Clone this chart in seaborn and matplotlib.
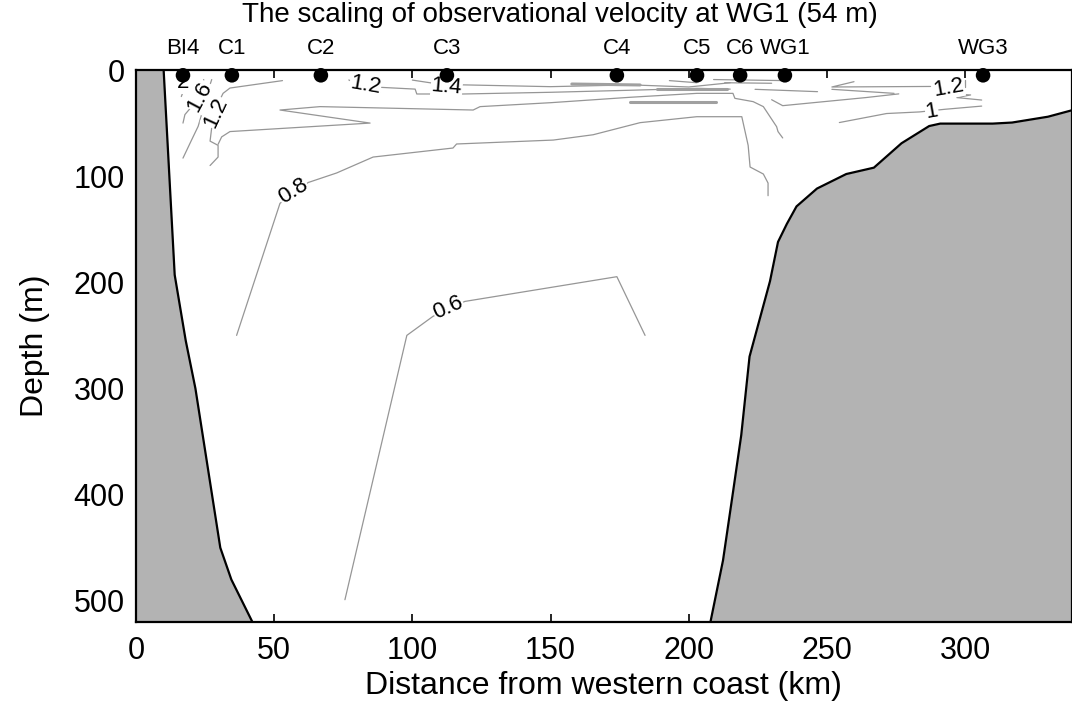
import matplotlib
matplotlib.use("Agg")
import matplotlib.pyplot as plt
import numpy as np
import pandas as pd
import seaborn as sns

# ---- stations along the section ----
station_names = ["BI4", "C1", "C2", "C3", "C4", "C5", "C6", "WG1", "WG3"]
station_km = [17.0, 34.7, 66.9, 112.5, 174.0, 203.0, 218.6, 234.8, 306.5]
station_depth = [5, 5, 5, 5, 5, 5, 5, 5, 5]

# ---- bottom topography (km, m) ----
west_km = [10.0, 14.0, 18.0, 21.5, 24.5, 27.5, 30.5, 34.5, 42.5]
west_depth = [0, 193, 255, 300, 350, 400, 450, 480, 522]
east_km = [340, 330, 317, 310, 291, 287, 277, 267, 257, 246.4, 239, 235.5,
           232.3, 229.4, 222, 219, 216, 212.4, 207.7]
east_depth = [37, 44, 49.5, 50.5, 50.5, 52.8, 69, 92, 98, 111.7, 128.5, 145,
              162, 199, 270, 344, 398, 462, 522]

# ---- scaling-factor isolines (km, m) ----
iso_06_km = [75.6, 98.0, 107.5, 119.0, 174.0, 184.2]
iso_06_depth = [499, 250, 232, 218, 194.7, 250]

iso_08_km = [36.4, 52.1, 62.3, 72.6, 85.8, 114.7, 116.0, 151.0, 165.4, 182.4,
             202.9, 219.2, 221.5, 222.2, 227.0, 228.7, 228.7]
iso_08_depth = [250, 125.6, 106, 97, 82, 73.5, 69.7, 66, 61, 49.6,
                44, 44, 71, 91.4, 98, 106.5, 118.4]

iso_10_km = [29.7, 31.0, 34.0, 84.7, 52.1, 66.6, 122.0, 124.5, 150.0, 178.8,
             202.9, 216.0, 216.7, 223.3, 227.0, 231.8, 232.3, 234.0]
iso_10_depth = [70, 63, 58, 50, 37.7, 34.5, 37.7, 34.5, 30.8, 25.7,
                22, 22, 26.7, 29.8, 34.5, 53.4, 58, 64]

iso_12w_km = [53.0, 34.0, 31.5, 30.0, 29.0, 27.5, 26.8, 29.7, 29.7, 26.8]
iso_12w_depth = [10, 17, 22, 30, 40, 52, 67, 71, 82, 90]

iso_14w_km = [27.4, 26.0, 24.5, 22.5, 20.1, 17.0]
iso_14w_depth = [9, 20, 35, 53, 66, 83]

iso_16_km = [24.5, 23.4, 19.0, 17.7, 17.0]
iso_16_depth = [9, 25, 38, 42, 50]

iso_20_km = [17.4, 16.4]
iso_20_depth = [18, 25]

iso_12t_km = [77.0, 80.0, 88.3, 101.0, 101.6, 118.4, 150.0, 180.0, 203.0, 215.0]
iso_12t_depth = [9.4, 13, 16.3, 18, 22.6, 22.6, 21, 19, 17.3, 18]

iso_14t_km = [100.0, 107.6, 112.4, 118.4, 150.0, 179.0, 200.0, 215.0]
iso_14t_depth = [9.5, 12.5, 16.3, 14, 15.7, 14, 16, 12]

iso_12e_km = [259.8, 251.8, 287.5]
iso_12e_depth = [11, 16, 15.5]
iso_12e_tick_km = [300.0, 300.0]
iso_12e_tick_depth = [9.4, 15.7]
iso_z_km = [291.0, 302.0, 297.0, 306.0]
iso_z_depth = [22, 23.5, 26, 28.3]

iso_10e_km = [254.5, 271.6, 283.5, 292.7, 306.0]
iso_10e_depth = [49.5, 41, 39.5, 37, 34]

iso_a_km = [224.0, 246.6]
iso_a_depth = [18.2, 20.4]
iso_b_km = [230.0, 234.0, 264.0, 276.0]
iso_b_depth = [28, 33.6, 26, 22.5]
iso_c_km = [251.8, 274.3]
iso_c_depth = [18.2, 22]
iso_d_km = [193.0, 203.0]
iso_d_depth = [10, 12]
iso_e_km = [209.0, 235.0]
iso_e_depth = [9, 10]
iso_f_km = [213.0, 230.0]
iso_f_depth = [12, 12.5]

# overlapping (doubled) isolines under C4-C6
band_a_km = [157.7, 182.4]
band_a_depth = [13.2, 14.1]
band_b_km = [178.8, 210.0]
band_b_depth = [29.9, 29.9]
band_c_km = [188.4, 213.7]
band_c_depth = [18.2, 18.2]

iso_labels = ["2", "1.6", "1.2", "1.2", "1.4", "0.8", "0.6", "1.2", "1"]
iso_label_km = [17.2, 23.2, 29.0, 83.0, 112.4, 57.0, 113.0, 294.0, 288.0]
iso_label_depth = [12, 25, 40, 14.5, 16.3, 114.6, 224, 16.5, 39.5]
iso_label_rot = [0, 62, 65, -10, -5, 32, 24, 10, 10]

# ---- figure ----
sns.set_theme(style="ticks")
plt.rcParams["font.family"] = ["Liberation Sans", "DejaVu Sans"]
plt.rcParams.update({"text.color": "black", "axes.labelcolor": "black",
                     "xtick.color": "black", "ytick.color": "black"})

fig = plt.figure(figsize=(10.72, 7.25), dpi=100)
ax = fig.add_axes([136 / 1072, 103 / 725, 935.5 / 1072, 552 / 725])

thin_lines = [
    (iso_06_km, iso_06_depth), (iso_08_km, iso_08_depth), (iso_10_km, iso_10_depth),
    (iso_12w_km, iso_12w_depth), (iso_14w_km, iso_14w_depth), (iso_16_km, iso_16_depth),
    (iso_20_km, iso_20_depth), (iso_12t_km, iso_12t_depth), (iso_14t_km, iso_14t_depth),
    (iso_12e_km, iso_12e_depth), (iso_12e_tick_km, iso_12e_tick_depth), (iso_z_km, iso_z_depth),
    (iso_10e_km, iso_10e_depth), (iso_a_km, iso_a_depth), (iso_b_km, iso_b_depth),
    (iso_c_km, iso_c_depth), (iso_d_km, iso_d_depth), (iso_e_km, iso_e_depth),
    (iso_f_km, iso_f_depth),
]
band_lines = [(band_a_km, band_a_depth), (band_b_km, band_b_depth), (band_c_km, band_c_depth)]


def to_frame(lines):
    parts = []
    for i, (xs, ds) in enumerate(lines):
        parts.append(pd.DataFrame({"km": xs, "depth": ds, "seg": i}))
    return pd.concat(parts, ignore_index=True)


thin_df = to_frame(thin_lines)
band_df = to_frame(band_lines)

sns.lineplot(data=thin_df, x="km", y="depth", units="seg", estimator=None, sort=False,
             color="#969696", linewidth=0.9, ax=ax, legend=False)
sns.lineplot(data=band_df, x="km", y="depth", units="seg", estimator=None, sort=False,
             color="#a0a0a0", linewidth=2.2, ax=ax, legend=False)

for txt, x, d, r in zip(iso_labels, iso_label_km, iso_label_depth, iso_label_rot):
    ax.text(x, d, txt, rotation=r, rotation_mode="anchor", ha="center", va="center",
            fontsize=16, color="black", zorder=4,
            bbox=dict(boxstyle="square,pad=0.02", fc="white", ec="none"))

# topography
ax.fill_betweenx(west_depth, 0, west_km, color="#b3b3b3", zorder=5, linewidth=0)
ax.plot(west_km, west_depth, color="black", lw=1.6, zorder=6)
ax.fill_betweenx(east_depth, east_km, 340, color="#b3b3b3", zorder=5, linewidth=0)
ax.plot(east_km, east_depth, color="black", lw=1.6, zorder=6)

# stations
st_df = pd.DataFrame({"km": station_km, "depth": station_depth, "name": station_names})
sns.scatterplot(data=st_df, x="km", y="depth", color="black", s=110, edgecolor="none",
                ax=ax, zorder=7, clip_on=False, legend=False)
for name, x in zip(station_names, station_km):
    ax.text(x, -20, name, ha="center", va="center", fontsize=16, clip_on=False)

ax.set_xlim(0, 338.5)
ax.set_ylim(520, 0)
ax.set_xticks([0, 50, 100, 150, 200, 250, 300])
ax.set_yticks([0, 100, 200, 300, 400, 500])
ax.tick_params(direction="in", length=6, width=1.2, labelsize=22, top=True, right=True,
               labeltop=False, labelright=False, pad=10)
ax.tick_params(axis="y", pad=8)
for s in ax.spines.values():
    s.set_linewidth(1.6)
    s.set_color("black")
    s.set_zorder(8)
ax.set_xlabel("Distance from western coast (km)", fontsize=23, labelpad=4)
ax.set_ylabel("Depth (m)", fontsize=23, labelpad=17)

fig.text(560 / 1072, 1 - 22 / 725, "The scaling of observational velocity at WG1 (54 m)",
         ha="center", va="baseline", fontsize=20)

fig.savefig("out.png", dpi=100)
